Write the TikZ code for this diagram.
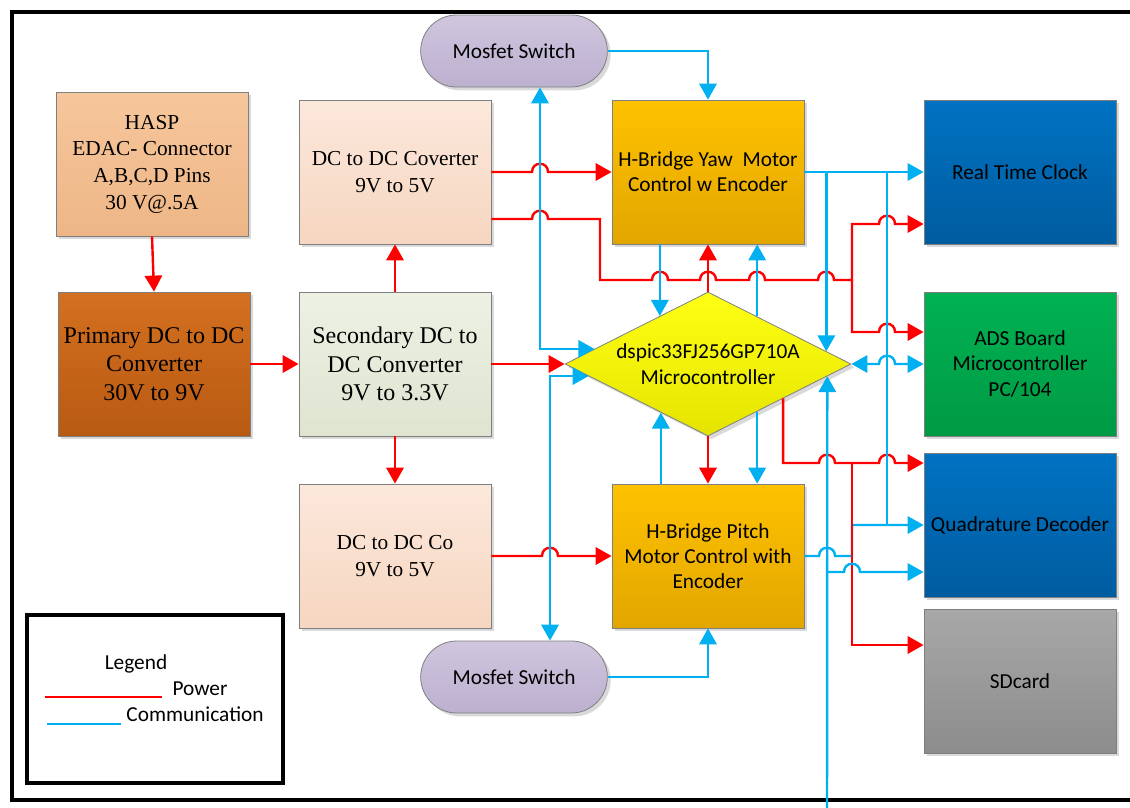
\documentclass[tikz,border=0pt]{standalone}
\usepackage{fontspec}
\setmainfont{Carlito}
\newfontfamily\timesfont{Liberation Serif}
\usetikzlibrary{arrows.meta,calc,shapes.geometric,shapes.misc,shadows}

\definecolor{pwr}{HTML}{FF0000}
\definecolor{com}{HTML}{00B0F0}
\definecolor{boxline}{HTML}{7F7F7F}

% a small hop over a crossing line (horizontal runs only)
\newcommand{\hop}[2]{-- ({#1-8},#2) .. controls ({#1-8},{#2-11}) and ({#1+8},{#2-11}) .. ({#1+8},#2)}

\begin{document}
\begin{tikzpicture}[x=0.75pt,y=-0.75pt,
    >={Triangle[length=12pt,width=13pt]},
    box/.style={draw=boxline,line width=0.6pt,minimum width=144pt,minimum height=108pt,align=center,inner sep=2pt,
        drop shadow={shadow xshift=2.5pt,shadow yshift=-2.5pt,opacity=0.3}},
    serifbox/.style={box,font=\timesfont\fontsize{16}{20}\selectfont},
    bigserif/.style={box,font=\timesfont\fontsize{18}{21.5}\selectfont},
    sansbox/.style={box,font=\fontsize{16}{19}\selectfont},
    switchbox/.style={sansbox,rounded rectangle,minimum height=54pt,top color=switchtop,bottom color=switchbot},
    power/.style={draw=pwr,line width=1.8pt,->},
    comm/.style={draw=com,line width=1.8pt,->}]
\definecolor{switchtop}{HTML}{D0C6DE}
\definecolor{switchbot}{HTML}{BCB0CF}
\useasboundingbox (0,0) rectangle (1130,807);
\draw[line width=3pt] (12,12) rectangle (1145,800);

% power side
\node[serifbox,top color={rgb,255:red,246;green,198;blue,156},bottom color={rgb,255:red,238;green,182;blue,134}] at (152,164) (hasp) {HASP\\EDAC- Connector\\A,B,C,D Pins\\30 V@.5A};
\node[bigserif,top color={rgb,255:red,212;green,112;blue,32},bottom color={rgb,255:red,184;green,90;blue,18}] at (154,364) (primary) {Primary DC to DC\\Converter\\30V to 9V};
\node[serifbox,top color={rgb,255:red,252;green,232;blue,220},bottom color={rgb,255:red,246;green,214;blue,192}] at (395,172) (dctop) {DC to DC Coverter\\9V to 5V};
\node[bigserif,top color={rgb,255:red,237;green,241;blue,228},bottom color={rgb,255:red,222;green,228;blue,208}] at (395,364) (secondary) {Secondary DC to\\DC Converter\\9V to 3.3V};
\node[serifbox,top color={rgb,255:red,252;green,232;blue,220},bottom color={rgb,255:red,246;green,214;blue,192}] at (395,556) (dcbot) {DC to DC Co\\9V to 5V};

% switches, bridges and controller
\node[switchbox] at (514,51) (mtop) {Mosfet Switch};
\node[switchbox] at (514,677) (mbot) {Mosfet Switch};
\node[sansbox,top color={rgb,255:red,255;green,194;blue,0},bottom color={rgb,255:red,226;green,166;blue,0}] at (708,172) (yaw) {H-Bridge Yaw\ \ Motor\\Control w Encoder};
\node[sansbox,top color={rgb,255:red,255;green,194;blue,0},bottom color={rgb,255:red,226;green,166;blue,0}] at (708,556) (pitch) {H-Bridge Pitch\\Motor Control with\\Encoder};
\node[diamond,aspect=2,draw=boxline,line width=0.6pt,minimum width=214.5pt,minimum height=108pt,inner sep=0pt,align=center,
    font=\fontsize{16}{19}\selectfont,top color={rgb,255:red,255;green,255;blue,20},bottom color={rgb,255:red,228;green,228;blue,0},
    drop shadow={shadow xshift=2.5pt,shadow yshift=-2.5pt,opacity=0.3}] at (708,364) (mcu) {dspic33FJ256GP710A\\Microcontroller};

% peripherals
\node[sansbox,top color={rgb,255:red,0;green,114;blue,194},bottom color={rgb,255:red,0;green,92;blue,160}] at (1020,172) (rtc) {Real Time Clock};
\node[sansbox,top color={rgb,255:red,0;green,178;blue,82},bottom color={rgb,255:red,0;green,154;blue,68}] at (1020,364) (ads) {ADS Board\\Microcontroller\\PC/104};
\node[sansbox,top color={rgb,255:red,0;green,114;blue,194},bottom color={rgb,255:red,0;green,92;blue,160}] at (1020,525) (quad) {Quadrature Decoder};
\node[sansbox,top color={rgb,255:red,168;green,168;blue,168},bottom color={rgb,255:red,140;green,140;blue,140}] at (1020,681) (sd) {SDcard};

% points on the diamond edges
\coordinate (mB) at ($(mcu.west)!0.208!(mcu.north)$);
\coordinate (mC) at ($(mcu.west)!0.167!(mcu.south)$);
\coordinate (mE) at ($(mcu.west)!0.664!(mcu.north)$);
\coordinate (mF) at ($(mcu.north)!0.343!(mcu.east)$);
\coordinate (mG) at ($(mcu.west)!0.671!(mcu.south)$);
\coordinate (mH) at ($(mcu.south)!0.343!(mcu.east)$);
\coordinate (mI) at ($(mcu.north)!0.825!(mcu.east)$);
\coordinate (mJ) at ($(mcu.south)!0.832!(mcu.east)$);
\coordinate (mR) at ($(mcu.south)!0.524!(mcu.east)$);
\coordinate (ext) at (827,830);

% communication under the power lines
\draw[comm] (pitch.east) \hop{827}{556} -- (852,556) -- (852,525) -- (quad.west);

% power
\draw[power] (hasp.south) -- (primary.north);
\draw[power] (primary.east) -- (secondary.west);
\draw[power] (secondary.north) -- (dctop.south);
\draw[power] (secondary.south) -- (dcbot.north);
\draw[power] (secondary.east) -- (mcu.west);
\draw[power] (dctop.east) \hop{540}{172} -- (yaw.west);
\draw[power] (dctop.east |- 0,219) \hop{540}{219} -- (600,219) -- (600,280) \hop{660}{280} \hop{708}{280} \hop{757}{280} \hop{826}{280}
    -- (852,280) coordinate (rsplit) -- (852,224) \hop{887}{224} -- (rtc.west |- 0,224);
\draw[power] (rsplit) -- (852,332) \hop{887}{332} -- (ads.west |- 0,332);
\draw[power] (mcu.north) -- (yaw.south);
\draw[power] (mcu.south) -- (pitch.north);
\draw[power] (dcbot.east) \hop{550}{556} -- (pitch.west);
\draw[power] (mR) -- (mR |- 0,463) \hop{827}{463} -- (852,463) coordinate (qsplit) \hop{887}{463} -- (quad.west |- 0,463);
\draw[power] (qsplit) -- (852,645) -- (sd.west |- 0,645);

% communication
\draw[comm] (mtop.east) -| (yaw.north);
\draw[comm,<->] (mtop.south -| 540,0) |- (mB);
\draw[comm,<->] (mbot.north -| 550,0) |- (mC);
\draw[comm] (mbot.east) -| (pitch.south);
\draw[comm] (yaw.south -| mE) -- (mE);
\draw[comm] (mF) -- (yaw.south -| mF);
\draw[comm] (pitch.north -| mG) -- (mG);
\draw[comm] (mH) -- (pitch.north -| mH);
\draw[comm] (yaw.east) -- (rtc.west);
\draw[comm] (yaw.east -| mI) -- (mI);
\draw[comm,-] (yaw.east -| 887,0) -- (887,525);
\draw[comm,<->] (mcu.east) \hop{887}{364} -- (ads.west);
\draw[comm] (ext) -- (mJ);
\draw[comm] (ext |- 0,572) \hop{852}{572} -- (quad.west |- 0,572);

% legend
\draw[line width=3pt] (27,615) rectangle (283,783);
\node[font=\fontsize{16}{19}\selectfont] at (136,664) (legend) {Legend};
\draw[pwr,line width=1.2pt] (45,697) coordinate (lp1) -- (162,697) coordinate (lp2);
\node[font=\fontsize{16}{19}\selectfont] at (200,689) (lpower) {Power};
\draw[com,line width=1.2pt] (47,724) coordinate (lc1) -- (121,724) coordinate (lc2);
\node[font=\fontsize{16}{19}\selectfont] at (195,714) (lcomm) {Communication};
\end{tikzpicture}
\end{document}
